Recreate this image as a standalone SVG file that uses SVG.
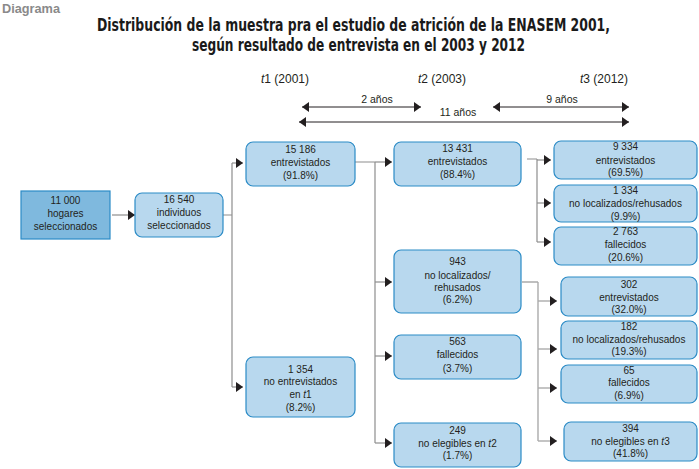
<svg xmlns="http://www.w3.org/2000/svg" width="699" height="469" viewBox="0 0 699 469">
<style>
text{font-family:"Liberation Sans",Arial,sans-serif;fill:#231f20}
.n{font-size:10px;text-anchor:middle}
.box{fill:#b8d8ee;stroke:#2b8bc6;stroke-width:1.2}
.dark{fill:#7fb9de;stroke:#2b8bc6;stroke-width:1.2}
.c{fill:none;stroke:#8e8e8e;stroke-width:1.2}
.c2{fill:none;stroke:#ababab;stroke-width:1.4}
.tl{fill:none;stroke:#231f20;stroke-width:1}
.lab{font-size:12px}
.yr{font-size:10.5px;text-anchor:middle}
.title{font-family:"Liberation Sans Narrow","DejaVu Sans Condensed","Liberation Sans",sans-serif;font-weight:bold;font-size:18px;text-anchor:middle;fill:#1a1a1a}
</style>
<defs>
<marker id="ah" viewBox="0 0 7 10" refX="7" refY="5" markerWidth="7" markerHeight="10" markerUnits="userSpaceOnUse" orient="auto-start-reverse">
<path d="M0,0 L7,5 L0,10 z" fill="#231f20"/>
</marker>
</defs>
<text x="2" y="13" style="font-size:12.5px;font-weight:bold;fill:#8a8a8a" textLength="58" lengthAdjust="spacingAndGlyphs">Diagrama</text>
<text class="title" x="353.5" y="31" textLength="513" lengthAdjust="spacingAndGlyphs">Distribución de la muestra pra el estudio de atrición de la ENASEM 2001,</text>
<text class="title" x="358.5" y="51" textLength="333" lengthAdjust="spacingAndGlyphs">según resultado de entrevista en el 2003 y 2012</text>
<g id="timeline">
<text class="lab" x="261" y="83"><tspan font-style="italic">t</tspan>1 (2001)</text>
<text class="lab" x="418" y="83"><tspan font-style="italic">t</tspan>2 (2003)</text>
<text class="lab" x="580" y="83"><tspan font-style="italic">t</tspan>3 (2012)</text>
<text class="yr" x="377" y="103">2 años</text>
<text class="yr" x="562" y="103">9 años</text>
<text class="yr" x="458" y="116">11 años</text>
<path class="tl" d="M302,107 H421" marker-start="url(#ah)" marker-end="url(#ah)"/>
<path class="tl" d="M493,107 H629" marker-start="url(#ah)" marker-end="url(#ah)"/>
<path class="tl" d="M299,122 H629" marker-start="url(#ah)" marker-end="url(#ah)"/>
</g>
<g id="connectors">
<path class="c" d="M112,215 H135" marker-end="url(#ah)"/>
<path class="c" d="M223,215 H232 M232,163 V387"/>
<path class="c" d="M232,163 H243" marker-end="url(#ah)"/>
<path class="c" d="M232,387 H243" marker-end="url(#ah)"/>
<path class="c" d="M355,162 H375 M375,162 V443"/>
<path class="c" d="M375,162 H392" marker-end="url(#ah)"/>
<path class="c" d="M375,282 H392" marker-end="url(#ah)"/>
<path class="c" d="M375,356 H392" marker-end="url(#ah)"/>
<path class="c" d="M375,443 H392" marker-end="url(#ah)"/>
<path class="c" d="M527,159 H537 M537,159 V242"/>
<path class="c" d="M537,160 H551" marker-end="url(#ah)"/>
<path class="c" d="M537,203 H551" marker-end="url(#ah)"/>
<path class="c" d="M537,242 H551" marker-end="url(#ah)"/>
<path class="c2" d="M522,282 H538 M538,282 V441"/>
<path class="c2" d="M538,301 H557" marker-end="url(#ah)"/>
<path class="c2" d="M538,349 H557" marker-end="url(#ah)"/>
<path class="c2" d="M538,388 H557" marker-end="url(#ah)"/>
<path class="c2" d="M538,441 H557" marker-end="url(#ah)"/>
</g>
<g id="hogares">
<rect class="dark" x="21" y="191" width="89" height="48"/>
<text class="n" x="65.5" y="204">11 000</text>
<text class="n" x="65.5" y="217">hogares</text>
<text class="n" x="65.5" y="230">seleccionados</text>
</g>
<g id="individuos">
<rect class="box" x="135" y="193" width="88" height="44" rx="7"/>
<text class="n" x="179" y="203">16 540</text>
<text class="n" x="179" y="216">individuos</text>
<text class="n" x="179" y="229">seleccionados</text>
</g>
<g id="t1-entrevistados">
<rect class="box" x="246" y="142" width="109" height="44" rx="7"/>
<text class="n" x="300.5" y="153">15 186</text>
<text class="n" x="300.5" y="166">entrevistados</text>
<text class="n" x="300.5" y="179">(91.8%)</text>
</g>
<g id="t1-no-entrevistados">
<rect class="box" x="246" y="357" width="109" height="60" rx="7"/>
<text class="n" x="300.5" y="373">1 354</text>
<text class="n" x="300.5" y="385">no entrevistados</text>
<text class="n" x="300.5" y="398">en <tspan font-style="italic">t</tspan>1</text>
<text class="n" x="300.5" y="411">(8.2%)</text>
</g>
<g id="t2-entrevistados">
<rect class="box" x="394" y="142" width="127" height="44" rx="7"/>
<text class="n" x="457.5" y="152">13 431</text>
<text class="n" x="457.5" y="165">entrevistados</text>
<text class="n" x="457.5" y="178">(88.4%)</text>
</g>
<g id="t2-no-localizados">
<rect class="box" x="394" y="250" width="127" height="63" rx="7"/>
<text class="n" x="457.5" y="265">943</text>
<text class="n" x="457.5" y="279">no localizados/</text>
<text class="n" x="457.5" y="291">rehusados</text>
<text class="n" x="457.5" y="303">(6.2%)</text>
</g>
<g id="t2-fallecidos">
<rect class="box" x="394" y="335" width="127" height="44" rx="7"/>
<text class="n" x="457.5" y="345">563</text>
<text class="n" x="457.5" y="358">fallecidos</text>
<text class="n" x="457.5" y="372">(3.7%)</text>
</g>
<g id="t2-no-elegibles">
<rect class="box" x="394" y="423" width="127" height="44" rx="7"/>
<text class="n" x="457.5" y="434">249</text>
<text class="n" x="457.5" y="447">no elegibles en <tspan font-style="italic">t</tspan>2</text>
<text class="n" x="457.5" y="459">(1.7%)</text>
</g>
<g id="t3-a-entrevistados">
<rect class="box" x="554" y="141" width="143" height="38" rx="7"/>
<text class="n" x="625.5" y="150">9 334</text>
<text class="n" x="625.5" y="164">entrevistados</text>
<text class="n" x="625.5" y="176">(69.5%)</text>
</g>
<g id="t3-a-no-localizados">
<rect class="box" x="554" y="185" width="143" height="37" rx="7"/>
<text class="n" x="625.5" y="194">1 334</text>
<text class="n" x="625.5" y="207">no localizados/rehusados</text>
<text class="n" x="625.5" y="220">(9.9%)</text>
</g>
<g id="t3-a-fallecidos">
<rect class="box" x="554" y="227" width="143" height="38" rx="7"/>
<text class="n" x="625.5" y="235">2 763</text>
<text class="n" x="625.5" y="248">fallecidos</text>
<text class="n" x="625.5" y="261">(20.6%)</text>
</g>
<g id="t3-b-entrevistados">
<rect class="box" x="561" y="277" width="136" height="39" rx="7"/>
<text class="n" x="629" y="288">302</text>
<text class="n" x="629" y="301">entrevistados</text>
<text class="n" x="629" y="313">(32.0%)</text>
</g>
<g id="t3-b-no-localizados">
<rect class="box" x="561" y="321" width="136" height="38" rx="7"/>
<text class="n" x="629" y="330">182</text>
<text class="n" x="629" y="343">no localizados/rehusados</text>
<text class="n" x="629" y="355">(19.3%)</text>
</g>
<g id="t3-b-fallecidos">
<rect class="box" x="561" y="365" width="136" height="38" rx="7"/>
<text class="n" x="629" y="374">65</text>
<text class="n" x="629" y="386">fallecidos</text>
<text class="n" x="629" y="399">(6.9%)</text>
</g>
<g id="t3-b-no-elegibles">
<rect class="box" x="564" y="422" width="133" height="39" rx="7"/>
<text class="n" x="630.5" y="432">394</text>
<text class="n" x="630.5" y="445">no elegibles en <tspan font-style="italic">t</tspan>3</text>
<text class="n" x="630.5" y="457">(41.8%)</text>
</g>
</svg>
